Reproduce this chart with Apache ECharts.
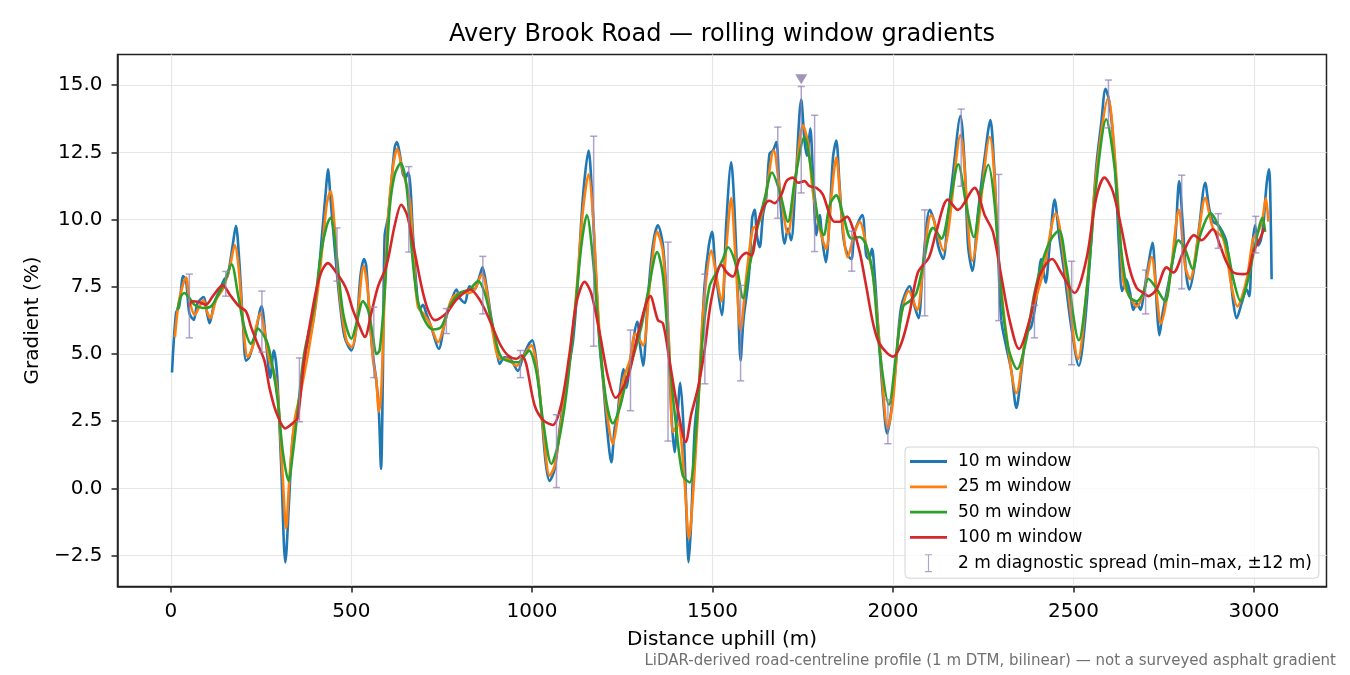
<!DOCTYPE html>
<html>
<head>
<meta charset="utf-8">
<title>Avery Brook Road — rolling window gradients</title>
<script src="https://cdn.jsdelivr.net/npm/echarts/dist/echarts.min.js"></script>
<style>
html,body{margin:0;padding:0;background:#fff;}
#main{width:1350px;height:675px;}
</style>
</head>
<body>
<div id="main"></div>
<script>
// distance uphill (m) / gradient (%), per window width
const dist10 = [3,14,23,34,42,51,63,74,91,100,107,120,134,148,157,171,180,189,199,208,217,231,251,263,275,285,294,305,317,328,337,355,374,393,406,420,429,435,442,453,467,481,500,514,525,535,541,549,558,569,576,582,587,592,601,610,620,626,634,643,650,657,663,670,680,689,698,707,721,742,758,772,791,800,814,827,841,855,863,874,888,901,911,924,943,961,975,992,1001,1012,1026,1038,1049,1063,1077,1095,1114,1128,1141,1157,1166,1176,1188,1197,1208,1220,1229,1236,1243,1254,1261,1275,1292,1300,1308,1321,1335,1349,1363,1375,1386,1395,1402,1411,1420,1428,1434,1441,1451,1464,1478,1490,1499,1509,1526,1538,1552,1561,1571,1578,1586,1601,1610,1617,1623,1631,1640,1649,1658,1668,1677,1686,1700,1709,1718,1730,1746,1755,1762,1771,1778,1788,1797,1804,1814,1825,1834,1843,1852,1863,1875,1885,1894,1915,1926,1934,1942,1949,1959,1972,1984,1995,2009,2023,2046,2060,2071,2083,2102,2115,2125,2139,2152,2166,2187,2199,2208,2220,2235,2254,2270,2279,2291,2300,2314,2328,2342,2356,2369,2383,2397,2411,2423,2434,2448,2460,2476,2494,2515,2531,2549,2563,2577,2589,2600,2614,2626,2635,2646,2657,2666,2675,2686,2695,2707,2719,2726,2732,2738,2747,2758,2769,2781,2793,2803,2812,2821,2834,2849,2865,2876,2887,2901,2913,2924,2934,2943,2952,2966,2980,2987,2994,3003,3012,3019,3026,3035,3042,3046,3049];
const grad10 = [4.31,6.52,6.77,7.90,7.71,6.52,6.27,6.90,7.12,6.52,6.14,6.90,7.34,7.78,7.90,9.04,9.77,8.53,6.27,4.75,4.88,5.51,6.77,5.51,4.12,5.13,4.25,0.97,-2.75,-0.28,1.85,3.24,5.13,6.14,7.52,9.67,11.05,11.87,10.80,9.04,7.02,5.63,5.13,6.01,7.90,8.53,8.28,6.64,5.13,4.00,2.86,0.72,4.12,9.40,10.05,11.31,12.69,12.88,12.44,11.68,11.56,11.75,11.31,9.54,7.52,6.64,6.83,6.52,6.01,5.19,6.14,6.77,7.40,7.08,6.90,7.52,7.40,7.90,8.22,7.52,6.27,5.26,4.63,4.88,4.75,4.37,4.88,5.38,5.51,4.75,2.86,0.97,0.28,0.72,2.23,4.00,5.51,7.90,10.80,12.57,11.05,8.28,5.26,4.00,2.23,0.97,2.23,2.61,3.49,4.44,3.74,5.00,6.20,5.26,4.56,7.02,9.04,9.79,9.04,6.64,2.86,1.35,2.48,3.93,2.23,-0.91,-2.75,-1.29,2.23,4.00,7.52,9.04,9.54,8.03,6.45,9.79,12.13,10.42,7.02,4.75,6.27,7.90,10.05,10.36,9.42,8.97,10.17,10.80,12.44,12.57,12.88,11.05,9.10,9.67,9.23,11.31,14.46,12.94,12.38,13.39,11.81,9.42,10.17,9.29,8.41,10.17,12.31,12.94,11.31,9.29,8.66,8.53,9.54,10.17,8.66,8.53,8.91,8.03,6.01,3.49,2.04,2.86,4.75,6.77,7.52,6.77,6.33,8.28,10.36,9.92,9.04,8.53,10.05,11.68,13.85,11.94,9.04,8.09,10.17,12.31,13.70,12.31,8.91,6.27,5.26,4.37,2.99,4.37,5.76,6.01,7.02,8.53,7.65,9.04,10.74,9.42,7.90,6.01,4.56,6.01,9.16,11.94,13.58,14.86,14.33,12.31,9.04,7.34,7.78,7.27,6.64,6.89,6.64,7.27,8.28,9.14,8.03,6.52,5.70,6.52,7.27,8.03,9.04,11.43,9.79,8.03,7.40,8.16,9.79,11.37,10.42,9.92,9.79,9.54,9.16,8.03,6.89,6.33,6.89,7.40,7.15,8.79,9.79,9.04,9.23,9.79,11.31,11.87,10.42,7.78];

const dist25 = [11,23,42,51,66,79,90,100,109,125,143,162,177,187,199,213,226,236,248,259,273,285,296,310,319,328,342,360,383,406,420,432,442,453,467,486,501,514,534,546,560,569,576,583,592,601,615,627,638,652,663,675,684,698,717,740,758,777,800,823,841,862,874,892,911,929,957,975,998,1017,1031,1049,1063,1081,1104,1123,1141,1157,1169,1183,1197,1211,1224,1236,1252,1271,1287,1308,1326,1347,1363,1380,1391,1405,1423,1435,1446,1460,1474,1497,1511,1525,1538,1552,1564,1578,1594,1612,1626,1645,1670,1686,1709,1728,1751,1765,1778,1795,1815,1829,1843,1857,1875,1894,1908,1926,1945,1963,1986,2000,2019,2044,2067,2083,2106,2139,2187,2220,2268,2296,2314,2342,2369,2392,2416,2451,2480,2513,2536,2563,2596,2619,2639,2661,2675,2694,2717,2730,2742,2767,2792,2809,2823,2846,2865,2887,2915,2938,2954,2980,2998,3012,3024,3033,3040];
const grad25 = [5.63,7.02,7.84,7.02,6.45,6.77,7.00,6.58,6.33,7.02,7.40,8.16,9.04,8.28,6.27,4.88,5.26,6.01,6.52,5.89,4.75,4.37,3.49,0.34,-1.49,0.34,2.48,3.62,5.26,7.27,9.04,10.61,11.05,9.79,7.27,5.51,5.26,6.01,8.28,7.27,4.75,4.00,2.86,3.74,7.27,9.92,11.94,12.63,12.06,11.31,10.55,8.03,6.77,6.52,6.14,5.44,6.14,7.02,7.27,7.27,7.40,7.97,7.40,5.76,4.82,4.82,4.56,4.88,5.32,4.12,2.23,0.47,0.85,2.48,4.75,7.27,10.30,11.68,10.17,6.64,4.12,2.48,1.66,2.48,4.00,4.75,5.76,5.32,7.52,9.54,8.78,5.38,2.10,2.40,0.21,-1.87,-0.28,2.86,6.52,8.85,7.90,6.96,8.90,10.80,8.53,5.89,7.90,9.67,9.79,10.68,12.57,11.18,9.48,11.31,13.51,12.82,11.05,9.79,8.91,10.80,12.31,10.30,8.60,9.54,9.92,9.04,7.90,5.38,2.23,3.25,6.14,7.34,6.64,8.16,10.17,8.85,13.13,8.47,13.07,8.03,5.76,3.55,5.76,6.89,8.03,10.23,7.90,4.82,7.27,11.68,14.52,11.56,7.65,7.02,6.77,7.27,8.60,7.27,6.14,7.78,10.36,8.28,7.78,9.42,10.80,9.67,9.29,7.52,6.77,7.78,9.29,9.54,10.05,10.80,9.92];

const dist50 = [18,28,37,51,65,88,111,129,148,168,185,203,222,231,240,254,268,282,296,310,326,337,351,369,397,416,432,442,458,477,500,514,532,546,560,569,578,592,606,620,636,652,666,680,698,726,749,772,800,827,851,869,892,915,961,980,992,1012,1031,1054,1072,1095,1118,1137,1152,1169,1188,1206,1224,1243,1261,1280,1303,1321,1347,1363,1381,1400,1418,1437,1455,1474,1492,1511,1529,1543,1566,1585,1603,1626,1645,1665,1686,1709,1728,1755,1774,1792,1808,1825,1843,1862,1885,1908,1926,1945,1963,1989,2009,2028,2046,2065,2083,2100,2111,2134,2157,2181,2203,2224,2245,2264,2282,2300,2319,2344,2369,2392,2416,2439,2460,2480,2515,2540,2563,2591,2614,2633,2654,2675,2694,2707,2726,2754,2772,2791,2809,2830,2851,2881,2901,2924,2943,2963,2984,3003,3024,3031];
const grad50 = [6.64,7.15,7.27,7.08,6.83,6.71,6.77,7.15,7.65,8.34,7.27,6.01,5.38,5.63,5.95,5.76,5.38,4.50,3.24,1.35,0.28,1.22,2.86,5.00,6.77,8.78,9.79,10.07,8.78,6.52,5.57,6.14,6.96,6.64,5.63,5.00,5.13,7.27,10.42,11.68,12.09,11.31,9.04,7.27,6.39,5.91,6.01,6.77,7.27,7.40,7.71,7.27,6.01,4.88,4.69,4.94,5.13,4.37,2.48,0.91,1.61,3.49,6.39,9.04,10.17,8.53,5.38,3.24,2.42,2.99,4.00,4.88,6.01,7.27,8.79,7.90,4.75,2.23,0.47,0.22,2.23,5.76,7.52,8.03,8.53,8.97,8.28,7.08,8.28,9.79,10.80,11.75,11.05,9.92,11.43,13.07,11.81,10.05,9.42,10.55,10.90,10.17,9.29,9.35,9.04,7.90,5.13,3.11,5.00,6.77,6.96,7.27,8.28,9.42,9.69,9.29,10.55,12.06,10.55,9.35,11.05,12.04,10.55,7.27,5.26,4.44,5.51,7.27,8.53,9.29,9.60,8.28,5.51,7.78,11.31,13.73,11.94,8.79,7.15,6.96,7.27,7.80,7.52,6.96,8.28,9.23,8.91,8.16,9.42,10.23,9.79,9.04,7.78,6.96,7.78,9.04,10.07,9.54];

const dist100 = [49,60,79,97,116,143,166,189,208,222,240,259,273,291,317,337,351,369,397,416,435,458,477,490,504,523,537,555,574,597,620,638,654,670,694,712,731,763,791,829,855,883,911,934,957,971,984,1007,1031,1058,1081,1104,1123,1146,1164,1188,1211,1232,1252,1271,1294,1328,1349,1363,1381,1405,1426,1441,1460,1478,1497,1525,1540,1557,1575,1594,1608,1626,1645,1658,1672,1691,1705,1723,1737,1755,1769,1788,1806,1825,1838,1852,1873,1889,1908,1926,1945,1963,2000,2023,2046,2069,2100,2120,2152,2180,2226,2254,2277,2300,2323,2349,2379,2406,2441,2466,2503,2536,2563,2586,2609,2633,2655,2675,2694,2707,2730,2758,2777,2804,2834,2855,2886,2906,2924,2943,2971,2984,2998,3017,3028];
const grad100 = [6.77,6.96,6.92,6.83,7.15,7.55,7.15,6.77,6.58,6.01,5.38,4.75,3.74,2.86,2.23,2.42,2.61,4.75,7.02,8.03,8.38,8.03,7.65,7.27,6.64,6.01,5.63,6.52,7.52,8.28,9.79,10.55,10.17,9.16,7.52,6.64,6.26,6.52,7.02,7.40,7.02,6.26,5.38,4.94,4.82,4.94,4.63,3.11,2.54,2.36,3.11,5.00,6.89,7.68,7.27,5.76,4.12,3.37,3.74,4.37,5.76,7.15,6.26,6.14,4.75,2.86,1.73,2.74,3.74,5.13,7.02,8.32,8.03,7.88,8.53,8.76,8.66,9.92,10.55,10.70,10.61,10.93,11.43,11.56,11.37,11.43,11.24,11.18,10.93,10.17,9.92,9.92,10.11,9.67,8.79,7.52,6.14,5.38,4.90,5.38,6.52,8.03,8.60,9.54,10.74,10.36,11.18,10.17,9.54,7.90,6.27,5.19,6.27,7.90,8.53,8.03,7.27,8.53,10.80,11.56,11.05,9.67,8.20,7.46,7.27,7.15,7.40,8.22,8.03,8.78,9.42,9.23,9.64,9.04,8.41,8.03,7.97,8.03,8.79,9.29,9.67];

// 2 m diagnostic spread, min-max within +-12 m
const spreadDist = [51,152,252,356,460,562,659,763,864,968,1068,1171,1273,1377,1479,1578,1681,1746,1783,1886,1986,2088,2189,2293,2392,2495,2597,2700,2800,2901,3005];
const spreadMin = [5.60,7.15,5.07,2.48,7.71,4.12,8.79,5.76,6.49,4.12,0.03,5.29,2.89,1.76,3.89,4.00,10.05,10.99,8.81,8.08,1.66,6.42,11.24,6.24,5.60,4.60,13.41,6.49,7.42,8.93,8.76];
const spreadMax = [7.97,8.07,7.34,4.85,9.69,6.74,11.97,6.69,8.63,5.13,2.74,13.10,5.89,9.16,7.97,7.55,13.44,14.95,13.88,9.57,3.30,10.36,14.11,11.68,6.81,8.45,15.19,8.12,11.65,10.22,10.12];

const peakMark = [1746, 15.22];
const xTicks = [0,500,1000,1500,2000,2500,3000];
const yTicks = [-2.5,0,2.5,5,7.5,10,12.5,15];

const FONT = 'DejaVu Sans';
const spreadColor = 'rgba(150,132,185,0.75)';
const spreadName = '2 m diagnostic spread (min\u2013max, \u00b112 m)';
const lineIcon = 'path://M0,0H40V3H0Z';

const zip = (xs, ys) => xs.map((x, i) => [x, ys[i]]);

function lineSeries(name, xs, ys, color) {
  return {
    name: name, type: 'line', data: zip(xs, ys),
    showSymbol: false, symbol: 'none', smooth: 0.3,
    lineStyle: {color: color, width: 2.6}, itemStyle: {color: color},
    animation: false, silent: true
  };
}

function renderSpread(params, api) {
  const x = api.value(0);
  const lo = api.coord([x, api.value(1)]);
  const hi = api.coord([x, api.value(2)]);
  const cap = 3.6;
  const st = {stroke: spreadColor, lineWidth: 1.5, fill: null};
  return {type: 'group', children: [
    {type: 'line', shape: {x1: lo[0], y1: lo[1], x2: hi[0], y2: hi[1]}, style: st},
    {type: 'line', shape: {x1: lo[0] - cap, y1: lo[1], x2: lo[0] + cap, y2: lo[1]}, style: st},
    {type: 'line', shape: {x1: hi[0] - cap, y1: hi[1], x2: hi[0] + cap, y2: hi[1]}, style: st}
  ]};
}

const chart = echarts.init(document.getElementById('main'));

const axisLineStyle = {show: true, onZero: false, lineStyle: {color: '#222', width: 1.5}};

const option = {
  backgroundColor: '#fff',
  animation: false,
  textStyle: {fontFamily: FONT},
  title: {
    text: 'Avery Brook Road \u2014 rolling window gradients',
    left: 722, top: 23, textAlign: 'center', padding: 0,
    textStyle: {fontFamily: FONT, fontSize: 24, fontWeight: 'normal', color: '#000'}
  },
  grid: {left: 117.5, right: 23.5, top: 54.5, bottom: 88.5, show: true,
         borderColor: '#222', borderWidth: 1.5, backgroundColor: 'transparent'},
  legend: {
    orient: 'vertical', left: 905, top: 447,
    padding: [6, 7, 6, 5], itemGap: 8.3, itemWidth: 37, itemHeight: 18,
    backgroundColor: 'rgba(255,255,255,0.8)', borderColor: '#d4d4d4', borderWidth: 1, borderRadius: 4,
    selectedMode: false,
    textStyle: {fontFamily: FONT, fontSize: 17, color: '#000', padding: [0, 0, 0, 6]},
    data: [
      {name: '10 m window', icon: lineIcon}, {name: '25 m window', icon: lineIcon},
      {name: '50 m window', icon: lineIcon}, {name: '100 m window', icon: lineIcon},
      {name: spreadName, icon: 'path://M0,0H8V1.3H4.65V18.7H8V20H0V18.7H3.35V1.3H0Z', itemStyle: {color: spreadColor}}
    ]
  },
  xAxis: {
    type: 'value', min: -148, max: 3201,
    name: 'Distance uphill (m)', nameLocation: 'middle', nameGap: 43,
    nameTextStyle: {fontFamily: FONT, fontSize: 20, color: '#000'},
    axisLine: axisLineStyle,
    axisTick: {show: true, inside: false, length: 6, customValues: xTicks, lineStyle: {color: '#222', width: 1.5}},
    axisLabel: {customValues: xTicks, margin: 15, fontFamily: FONT, fontSize: 20, color: '#000',
      formatter: v => String(v)},
    splitLine: {show: true, lineStyle: {color: '#e6e6e6', width: 1.2}}
  },
  yAxis: {
    type: 'value', min: -3.65, max: 16.14,
    name: 'Gradient (%)', nameLocation: 'middle', nameGap: 75,
    nameTextStyle: {fontFamily: FONT, fontSize: 20, color: '#000'},
    axisLine: axisLineStyle,
    axisTick: {show: true, inside: false, length: 6, customValues: yTicks, lineStyle: {color: '#222', width: 1.5}},
    axisLabel: {customValues: yTicks, margin: 15, fontFamily: FONT, fontSize: 20, color: '#000',
      formatter: v => (v < 0 ? '\u2212' : '') + Math.abs(v).toFixed(1)},
    splitLine: {show: true, lineStyle: {color: '#e6e6e6', width: 1.2}}
  },
  series: [
    lineSeries('10 m window', dist10, grad10, '#1f77b4'),
    lineSeries('25 m window', dist25, grad25, '#ff7f0e'),
    lineSeries('50 m window', dist50, grad50, '#2ca02c'),
    lineSeries('100 m window', dist100, grad100, '#d62728'),
    {
      name: spreadName, type: 'custom', renderItem: renderSpread,
      data: spreadDist.map((d, i) => [d, spreadMin[i], spreadMax[i]]),
      encode: {x: 0, y: [1, 2]}, itemStyle: {color: spreadColor}, z: 5, silent: true
    },
    {
      name: 'peak', type: 'scatter', data: [peakMark],
      symbol: 'triangle', symbolRotate: 180, symbolSize: [12, 10],
      itemStyle: {color: '#8a78aa'}, z: 6, silent: true
    }
  ],
  graphic: [{
    type: 'text', right: 14, top: 654,
    style: {text: 'LiDAR-derived road-centreline profile (1 m DTM, bilinear) \u2014 not a surveyed asphalt gradient',
            fontFamily: FONT, fontSize: 15, fill: '#707070'}
  }]
};

chart.setOption(option);
</script>
</body>
</html>
